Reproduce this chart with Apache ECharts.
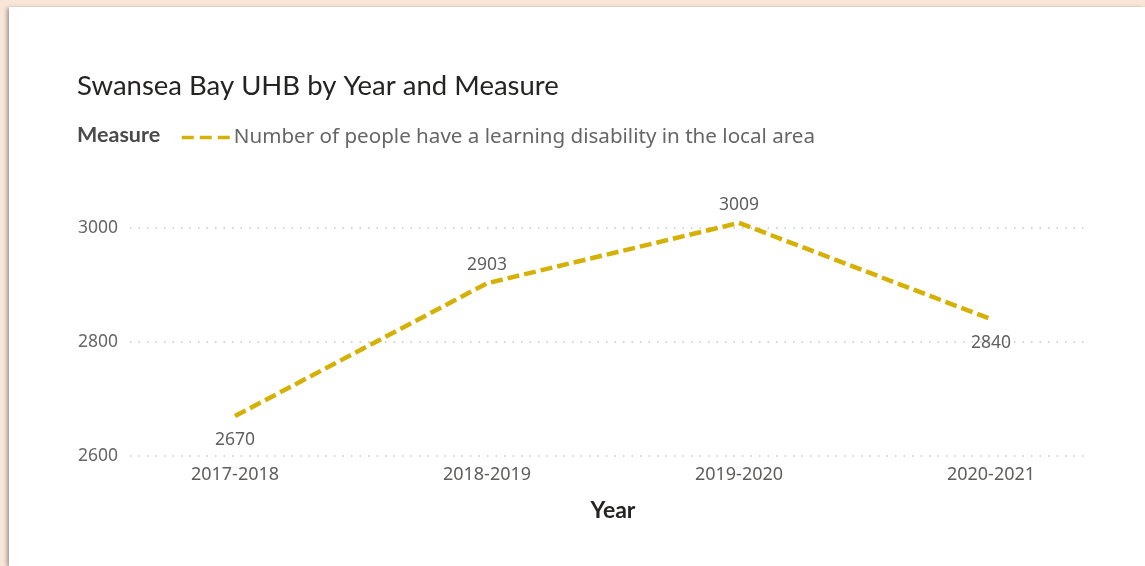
<!DOCTYPE html>
<html><head><meta charset="utf-8">
<script src="https://cdn.jsdelivr.net/npm/echarts@6/dist/echarts.min.js"></script>
<style>
html,body{margin:0;padding:0;width:1145px;height:566px;overflow:hidden;background:#fae6d9;}
#panel{position:absolute;left:9px;top:7px;width:1136px;height:559px;background:#fff;box-shadow:-2px 1px 4px rgba(0,0,0,0.35);}
#chart{position:absolute;left:0;top:0;width:1145px;height:566px;}
</style></head>
<body><div id="panel"></div><div id="chart"></div>
<script>
const categories = ['2017-2018','2018-2019','2019-2020','2020-2021'];
const values = [2670, 2903, 3009, 2840];
const labelPos = ['bottom','top','top','bottom'];
const yTicks = [2600, 2800, 3000];
const seriesName = 'Number of people have a learning disability in the local area';

const yMin = 2600, yMax = 3100, yStep = 200;
const lineColor = '#d4b104';
const chart = echarts.init(document.getElementById('chart'), null, {renderer:'canvas'});
chart.setOption({
  backgroundColor: 'transparent',
  animation: false,
  title: [
    {text:'Swansea Bay UHB by Year and Measure', left:72, top:67,
     textStyle:{fontFamily:'Lato', fontWeight:'normal', fontSize:27.5, color:'#252423'}},
    {text:'Measure', left:72, top:119,
     textStyle:{fontFamily:'Lato', fontWeight:'bold', fontSize:21.5, color:'#4a4a4a'}}
  ],
  legend: {
    show:true, left:175, top:122, itemWidth:50, itemHeight:14, itemGap:4,
    data:[{name:seriesName}],
    itemStyle:{color:'rgba(0,0,0,0)', borderWidth:0},
    lineStyle:{width:3.5, type:[12,6]},
    textStyle:{fontFamily:'Noto Sans', fontSize:20.6, color:'#666', padding:[0,0,0,-3]}
  },
  grid: [
    {left:130, right:55, top:171, bottom:110},
    {left:109, right:28, top:171, bottom:110}
  ],
  xAxis: [
    {gridIndex:0, type:'category', data:categories, show:false},
    {gridIndex:1, type:'category', data:categories, boundaryGap:true,
     axisLine:{show:false}, axisTick:{show:false},
     axisLabel:{margin:10, fontFamily:'Noto Sans', fontSize:18, color:'#605e5c'},
     name:'Year', nameLocation:'middle', nameGap:43,
     nameTextStyle:{fontFamily:'Lato', fontWeight:'bold', fontSize:23, color:'#252423'}}
  ],
  yAxis: [
    {gridIndex:0, type:'value', min:yMin, max:yMax, interval:yStep,
     axisLine:{show:false}, axisTick:{show:false},
     axisLabel:{margin:12, fontFamily:'Noto Sans', fontSize:17.5, color:'#666', showMaxLabel:false,
       formatter: v => yTicks.includes(v) ? String(v) : ''},
     splitLine:{show:true, showMaxLine:false, lineStyle:{color:'#c8c8c8', width:1.5, type:[1.5,7]}}},
    {gridIndex:1, type:'value', min:yMin, max:yMax, show:false, splitLine:{show:false}}
  ],
  series: [{
    name: seriesName, type:'line', xAxisIndex:1, yAxisIndex:1,
    data: values.map((v,i)=>({value:v, label:{position:labelPos[i], distance: labelPos[i]==='bottom' ? 14 : 8}})),
    symbol:'circle', symbolSize:2, showSymbol:true,
    itemStyle:{color:'rgba(0,0,0,0)', borderWidth:0},
    lineStyle:{color:lineColor, width:4.5, type:[12,5]},
    label:{show:true, fontFamily:'Noto Sans', fontSize:17.5, color:'#5f5f5f'}
  }]
});
</script></body></html>
